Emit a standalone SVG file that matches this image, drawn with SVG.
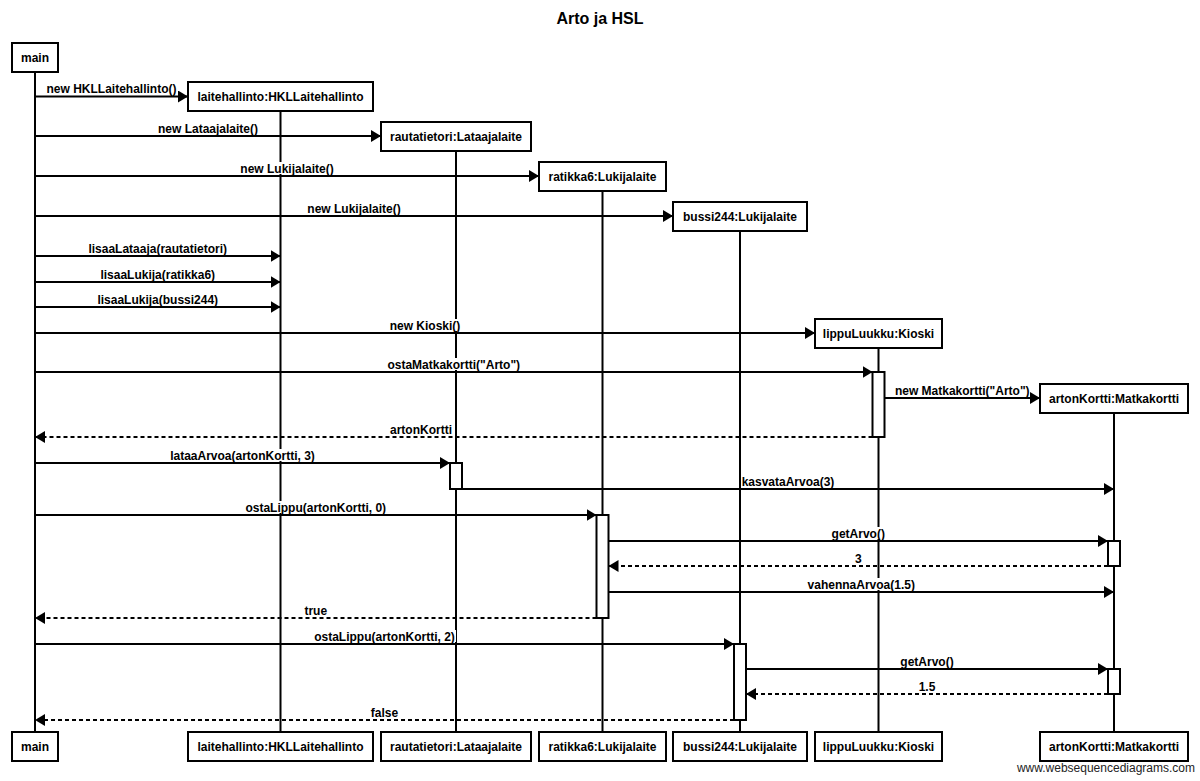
<svg xmlns="http://www.w3.org/2000/svg" width="1200" height="781" viewBox="0 0 1200 781">
<style>
.box{fill:#fff;stroke:#000;stroke-width:2}
.act{fill:#fff;stroke:#000;stroke-width:2}
.life{stroke:#000;stroke-width:2;fill:none}
.msg{stroke:#000;stroke-width:2;fill:none;marker-end:url(#ah)}
.ret{stroke:#000;stroke-width:2;fill:none;stroke-dasharray:4 3;marker-end:url(#ah)}
.nt{font-family:"Liberation Sans",Arial,sans-serif;font-size:12px;font-weight:bold;text-anchor:middle;fill:#000}
.lbl{font-family:"Liberation Sans",Arial,sans-serif;font-size:12px;font-weight:bold;text-anchor:middle;fill:#000}
.bg{fill:#fff}
</style>
<defs>
<marker id="ah" markerUnits="userSpaceOnUse" markerWidth="11" markerHeight="12" refX="10" refY="6" orient="auto">
<path d="M0,0 L10,6 L0,12 z" fill="#000" stroke="none"/>
</marker>
</defs>
<rect width="1200" height="781" fill="#fff"/>
<text x="600" y="24" font-family="Liberation Sans,Arial,sans-serif" font-size="16" font-weight="bold" text-anchor="middle">Arto ja HSL</text>

<g id="lifelines">
<line class="life" x1="35" y1="72" x2="35" y2="732"/>
<line class="life" x1="280.5" y1="111" x2="280.5" y2="732"/>
<line class="life" x1="456" y1="151" x2="456" y2="732"/>
<line class="life" x1="602.5" y1="191" x2="602.5" y2="732"/>
<line class="life" x1="740" y1="231" x2="740" y2="732"/>
<line class="life" x1="878.5" y1="348" x2="878.5" y2="732"/>
<line class="life" x1="1114" y1="413" x2="1114" y2="732"/>
</g>

<g id="node-main">
<rect class="box" x="12" y="43" width="46" height="29"/>
<text class="nt" x="35" y="62">main</text>
<rect class="box" x="12" y="732" width="46" height="29"/>
<text class="nt" x="35" y="751">main</text>
</g>
<g id="node-laitehallinto">
<rect class="box" x="188" y="82" width="185" height="29"/>
<text class="nt" x="280.5" y="101">laitehallinto:HKLLaitehallinto</text>
<rect class="box" x="188" y="732" width="185" height="29"/>
<text class="nt" x="280.5" y="751">laitehallinto:HKLLaitehallinto</text>
</g>
<g id="node-rautatietori">
<rect class="box" x="381" y="122" width="150" height="29"/>
<text class="nt" x="456" y="141">rautatietori:Lataajalaite</text>
<rect class="box" x="381" y="732" width="150" height="29"/>
<text class="nt" x="456" y="751">rautatietori:Lataajalaite</text>
</g>
<g id="node-ratikka6">
<rect class="box" x="539" y="162" width="127" height="29"/>
<text class="nt" x="602.5" y="181">ratikka6:Lukijalaite</text>
<rect class="box" x="539" y="732" width="127" height="29"/>
<text class="nt" x="602.5" y="751">ratikka6:Lukijalaite</text>
</g>
<g id="node-bussi244">
<rect class="box" x="673" y="202" width="134" height="29"/>
<text class="nt" x="740" y="221">bussi244:Lukijalaite</text>
<rect class="box" x="673" y="732" width="134" height="29"/>
<text class="nt" x="740" y="751">bussi244:Lukijalaite</text>
</g>
<g id="node-lippuLuukku">
<rect class="box" x="815" y="319" width="127" height="29"/>
<text class="nt" x="878.5" y="338">lippuLuukku:Kioski</text>
<rect class="box" x="815" y="732" width="127" height="29"/>
<text class="nt" x="878.5" y="751">lippuLuukku:Kioski</text>
</g>
<g id="node-artonKortti">
<rect class="box" x="1040" y="384" width="148" height="29"/>
<text class="nt" x="1114" y="403">artonKortti:Matkakortti</text>
<rect class="box" x="1040" y="732" width="148" height="29"/>
<text class="nt" x="1114" y="751">artonKortti:Matkakortti</text>
</g>

<g id="activations">
<rect class="act" x="872.5" y="372" width="12" height="65"/>
<rect class="act" x="450" y="463" width="12" height="26"/>
<rect class="act" x="596.5" y="515" width="12" height="103"/>
<rect class="act" x="1108" y="541" width="12" height="25"/>
<rect class="act" x="734" y="644" width="12" height="76"/>
<rect class="act" x="1108" y="669" width="12" height="25"/>
</g>

<g id="labels">
<rect class="bg" x="46" y="82.5" width="132" height="12"/><text class="lbl" x="111.5" y="93">new HKLLaitehallinto()</text>
<rect class="bg" x="158" y="122" width="102" height="12"/><text class="lbl" x="208" y="132.5">new Lataajalaite()</text>
<rect class="bg" x="240" y="162" width="95" height="12"/><text class="lbl" x="287" y="172.5">new Lukijalaite()</text>
<rect class="bg" x="307" y="202" width="95" height="12"/><text class="lbl" x="354" y="212.5">new Lukijalaite()</text>
<rect class="bg" x="88" y="242" width="141" height="12"/><text class="lbl" x="157.75" y="252.5">lisaaLataaja(rautatietori)</text>
<rect class="bg" x="99" y="268" width="117" height="12"/><text class="lbl" x="157.75" y="278.5">lisaaLukija(ratikka6)</text>
<rect class="bg" x="96" y="293" width="123" height="12"/><text class="lbl" x="157.75" y="303.5">lisaaLukija(bussi244)</text>
<rect class="bg" x="389" y="319" width="73" height="12"/><text class="lbl" x="425" y="329.5">new Kioski()</text>
<rect class="bg" x="387" y="358" width="135" height="12"/><text class="lbl" x="453.75" y="368.5">ostaMatkakortti("Arto")</text>
<rect class="bg" x="894" y="384" width="137" height="12"/><text class="lbl" x="962.25" y="394.5">new Matkakortti("Arto")</text>
<rect class="bg" x="389" y="423" width="64" height="12"/><text class="lbl" x="421" y="433.5">artonKortti</text>
<rect class="bg" x="169" y="449" width="147" height="12"/><text class="lbl" x="242.5" y="459.5">lataaArvoa(artonKortti, 3)</text>
<rect class="bg" x="741" y="475" width="94" height="12"/><text class="lbl" x="788" y="485.5">kasvataArvoa(3)</text>
<rect class="bg" x="244" y="501" width="143" height="12"/><text class="lbl" x="315.75" y="511.5">ostaLippu(artonKortti, 0)</text>
<rect class="bg" x="831" y="527" width="55" height="12"/><text class="lbl" x="858.25" y="537.5">getArvo()</text>
<rect class="bg" x="853" y="552" width="10" height="12"/><text class="lbl" x="858.25" y="562.5">3</text>
<rect class="bg" x="806" y="578" width="112" height="12"/><text class="lbl" x="861.25" y="588.5">vahennaArvoa(1.5)</text>
<rect class="bg" x="303" y="604" width="25" height="12"/><text class="lbl" x="315.75" y="614.5">true</text>
<rect class="bg" x="313" y="630" width="143" height="12"/><text class="lbl" x="384.5" y="640.5">ostaLippu(artonKortti, 2)</text>
<rect class="bg" x="900" y="655" width="55" height="12"/><text class="lbl" x="927" y="665.5">getArvo()</text>
<rect class="bg" x="917" y="680" width="20" height="12"/><text class="lbl" x="927" y="690.5">1.5</text>
<rect class="bg" x="370" y="706" width="29" height="12"/><text class="lbl" x="384.5" y="716.5">false</text>
</g>

<g id="connectors">
<line class="msg" x1="35" y1="96.5" x2="188" y2="96.5"/>
<line class="msg" x1="35" y1="136" x2="381" y2="136"/>
<line class="msg" x1="35" y1="176" x2="539" y2="176"/>
<line class="msg" x1="35" y1="216" x2="673" y2="216"/>
<line class="msg" x1="35" y1="256" x2="280.5" y2="256"/>
<line class="msg" x1="35" y1="282" x2="280.5" y2="282"/>
<line class="msg" x1="35" y1="307" x2="280.5" y2="307"/>
<line class="msg" x1="35" y1="333" x2="815" y2="333"/>
<line class="msg" x1="35" y1="372" x2="872.5" y2="372"/>
<line class="msg" x1="884.5" y1="398" x2="1040" y2="398"/>
<line class="ret" x1="872.5" y1="437" x2="35" y2="437"/>
<line class="msg" x1="35" y1="463" x2="450" y2="463"/>
<line class="msg" x1="462" y1="489" x2="1114" y2="489"/>
<line class="msg" x1="35" y1="515" x2="596.5" y2="515"/>
<line class="msg" x1="608.5" y1="541" x2="1108" y2="541"/>
<line class="ret" x1="1108" y1="566" x2="608.5" y2="566"/>
<line class="msg" x1="608.5" y1="592" x2="1114" y2="592"/>
<line class="ret" x1="596.5" y1="618" x2="35" y2="618"/>
<line class="msg" x1="35" y1="644" x2="734" y2="644"/>
<line class="msg" x1="746" y1="669" x2="1108" y2="669"/>
<line class="ret" x1="1108" y1="694" x2="746" y2="694"/>
<line class="ret" x1="734" y1="720" x2="35" y2="720"/>
</g>

<text x="1195" y="772" font-family="Liberation Sans,Arial,sans-serif" font-size="12" text-anchor="end" fill="#222">www.websequencediagrams.com</text>
</svg>
